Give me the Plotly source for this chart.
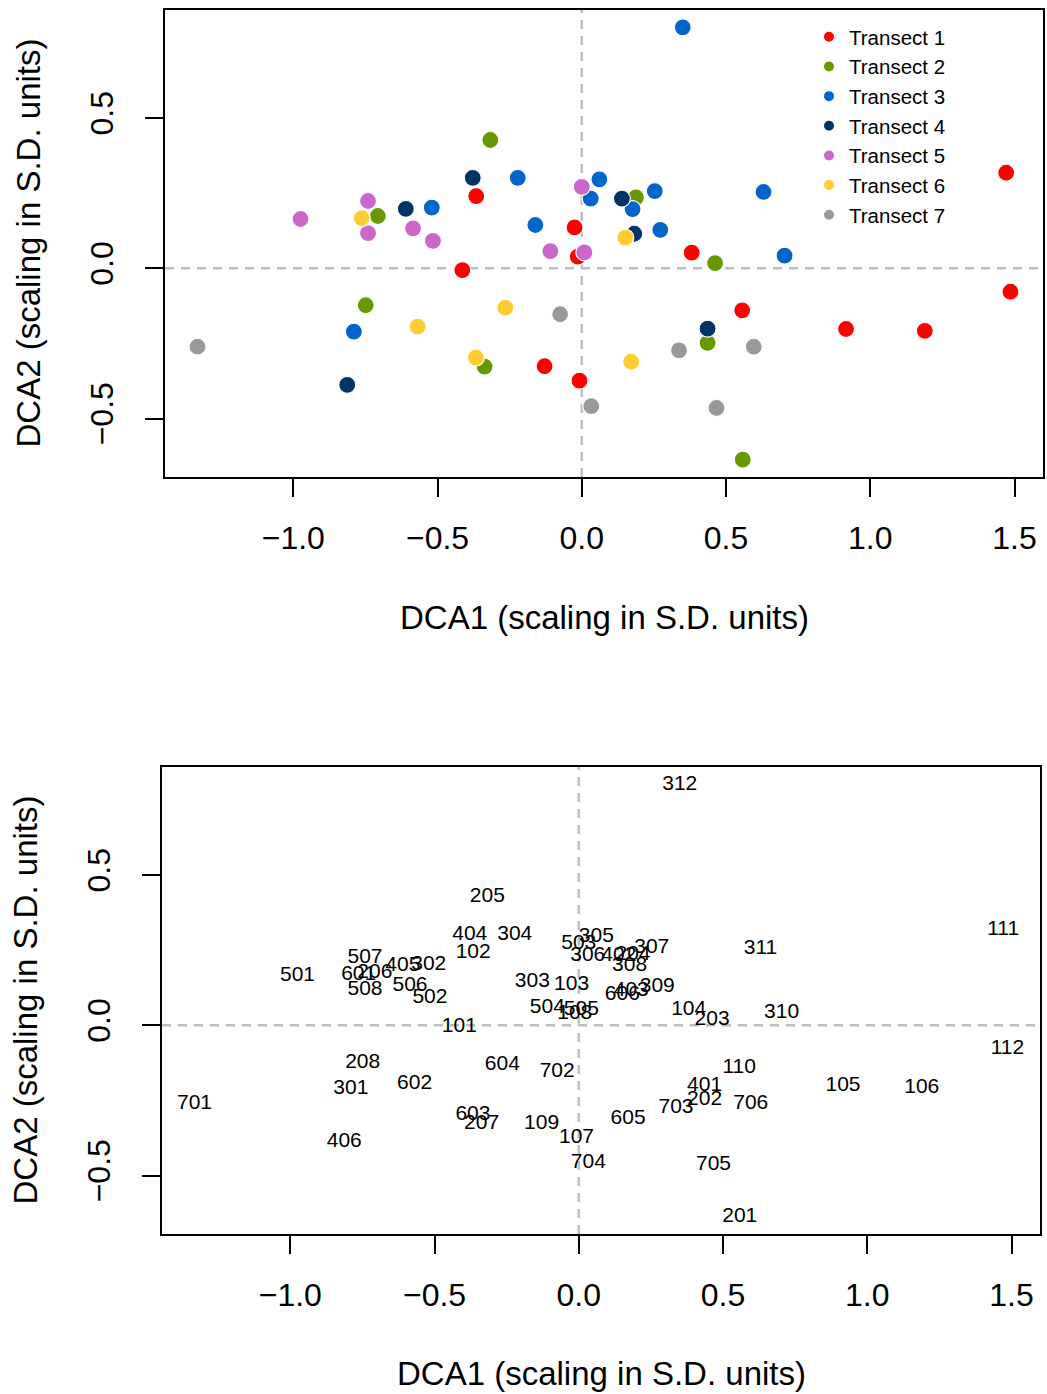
import plotly.graph_objects as go

# DCA site scores (axis 1 and 2) per transect, with site labels
sites_t1 = ["101", "102", "103", "104", "105", "106", "107", "108", "109", "110", "111", "112"]
dca1_t1 = [-0.414, -0.366, -0.025, 0.381, 0.916, 1.189, -0.008, -0.014, -0.129, 0.556, 1.471, 1.486]
dca2_t1 = [-0.006, 0.240, 0.136, 0.052, -0.202, -0.208, -0.374, 0.039, -0.326, -0.140, 0.318, -0.078]

sites_t2 = ["201", "202", "203", "204", "205", "206", "207", "208"]
dca1_t2 = [0.558, 0.436, 0.462, 0.188, -0.317, -0.707, -0.337, -0.749]
dca2_t2 = [-0.637, -0.248, 0.017, 0.236, 0.427, 0.174, -0.327, -0.123]

sites_t3 = ["301", "302", "303", "304", "305", "306", "307", "308", "309", "310", "311", "312"]
dca1_t3 = [-0.790, -0.520, -0.161, -0.222, 0.061, 0.031, 0.253, 0.176, 0.272, 0.703, 0.630, 0.350]
dca2_t3 = [-0.211, 0.202, 0.144, 0.301, 0.296, 0.232, 0.257, 0.197, 0.128, 0.042, 0.254, 0.802]

sites_t4 = ["401", "402", "403", "404", "405", "406"]
dca1_t4 = [0.436, 0.139, 0.182, -0.378, -0.610, -0.813]
dca2_t4 = [-0.201, 0.232, 0.115, 0.301, 0.198, -0.388]

sites_t5 = ["501", "502", "503", "504", "505", "506", "507", "508"]
dca1_t5 = [-0.975, -0.516, 0.000, -0.109, 0.009, -0.585, -0.741, -0.741]
dca2_t5 = [0.164, 0.091, 0.271, 0.057, 0.053, 0.133, 0.224, 0.117]

sites_t6 = ["601", "602", "603", "604", "605", "606"]
dca1_t6 = [-0.763, -0.569, -0.367, -0.265, 0.171, 0.151]
dca2_t6 = [0.167, -0.194, -0.297, -0.131, -0.311, 0.102]

sites_t7 = ["701", "702", "703", "704", "705", "706"]
dca1_t7 = [-1.332, -0.075, 0.337, 0.033, 0.467, 0.596]
dca2_t7 = [-0.261, -0.153, -0.273, -0.459, -0.465, -0.261]

transect_names = ["Transect 1", "Transect 2", "Transect 3", "Transect 4",
                  "Transect 5", "Transect 6", "Transect 7"]
transect_colors = ["#FF0000", "#669900", "#0066CC", "#003366",
                   "#CC66CC", "#FFCC33", "#999999"]

x_ticks = [-1.0, -0.5, 0.0, 0.5, 1.0, 1.5]
y_ticks = [-0.5, 0.0, 0.5]
axis_title_x = "DCA1 (scaling in S.D. units)"
axis_title_y = "DCA2 (scaling in S.D. units)"

groups = [
    (sites_t1, dca1_t1, dca2_t1),
    (sites_t2, dca1_t2, dca2_t2),
    (sites_t3, dca1_t3, dca2_t3),
    (sites_t4, dca1_t4, dca2_t4),
    (sites_t5, dca1_t5, dca2_t5),
    (sites_t6, dca1_t6, dca2_t6),
    (sites_t7, dca1_t7, dca2_t7),
]

FONT = "Liberation Sans, Arial, Helvetica, sans-serif"
W, H = 1047, 1394

# R-style axis ranges: data range extended by 4% on each side
all_x = [v for g in groups for v in g[1]]
all_y = [v for g in groups for v in g[2]]
xpad = 0.04 * (max(all_x) - min(all_x))
ypad = 0.04 * (max(all_y) - min(all_y))
x_range = [min(all_x) - xpad, max(all_x) + xpad]
y_range = [min(all_y) - ypad, max(all_y) + ypad]

fig = go.Figure()

# Upper panel: coloured site points
for name, color, (sites, xs, ys) in zip(transect_names, transect_colors, groups):
    fig.add_trace(go.Scatter(
        x=xs, y=ys, mode="markers", name=name,
        marker=dict(size=17, color=color, line=dict(color="white", width=1.2)),
        xaxis="x", yaxis="y", showlegend=True,
    ))

# Lower panel: site labels at the same ordination positions
for sites, xs, ys in groups:
    fig.add_trace(go.Scatter(
        x=xs, y=ys, mode="text", text=sites,
        textposition="middle center",
        textfont=dict(family=FONT, size=21, color="black"),
        xaxis="x2", yaxis="y2", showlegend=False, hoverinfo="skip",
    ))

# Panel boxes in pixels (left, right, top, bottom)
top_box = (165, 1043, 10, 477)
bot_box = (162, 1040, 767, 1234)


def xdom(b):
    return [b[0] / W, b[1] / W]


def ydom(b):
    return [1 - b[3] / H, 1 - b[2] / H]


axis_common = dict(
    showgrid=False, zeroline=False,
    showline=True, linecolor="black", linewidth=2, mirror=True,
    ticks="outside", ticklen=18, tickwidth=2, tickcolor="black",
    tickfont=dict(family=FONT, size=32, color="black"),
    tickformat=".1f",
)

fig.update_layout(
    width=W, height=H,
    margin=dict(l=0, r=0, t=0, b=0),
    paper_bgcolor="white", plot_bgcolor="white",
    font=dict(family=FONT, color="black"),
    xaxis=dict(domain=xdom(top_box), range=x_range, tickvals=x_ticks,
               anchor="y", ticklabelstandoff=14, **axis_common),
    yaxis=dict(domain=ydom(top_box), range=y_range, tickvals=y_ticks,
               anchor="x", tickangle=-90, ticklabelstandoff=19, **axis_common),
    xaxis2=dict(domain=xdom(bot_box), range=x_range, tickvals=x_ticks,
                anchor="y2", ticklabelstandoff=14, **axis_common),
    yaxis2=dict(domain=ydom(bot_box), range=y_range, tickvals=y_ticks,
                anchor="x2", tickangle=-90, ticklabelstandoff=19, **axis_common),
    legend=dict(
        x=809 / W, y=1 - 17 / H, xanchor="left", yanchor="top",
        bgcolor="rgba(0,0,0,0)", borderwidth=0,
        font=dict(family=FONT, size=20.5, color="black"),
        itemsizing="constant",
    ),
)

# Dashed reference lines through the origin in both panels
dash_style = dict(color="#BEBEBE", width=2.5, dash="9px,7px")
for xr, yr in (("x", "y"), ("x2", "y2")):
    fig.add_shape(type="line", xref=xr, yref=f"{yr} domain", x0=0, x1=0, y0=0, y1=1,
                  line=dash_style, layer="below")
    fig.add_shape(type="line", xref=f"{xr} domain", yref=yr, x0=0, x1=1, y0=0, y1=0,
                  line=dash_style, layer="below")

# Axis titles
title_font = dict(family=FONT, size=33, color="black")
for box, xt_y, yt_x in ((top_box, 617, 28), (bot_box, 1373, 25)):
    fig.add_annotation(
        text=axis_title_x, xref="paper", yref="paper",
        x=(box[0] + box[1]) / 2 / W, y=1 - xt_y / H,
        xanchor="center", yanchor="middle", showarrow=False, font=title_font,
    )
    fig.add_annotation(
        text=axis_title_y, xref="paper", yref="paper",
        x=yt_x / W, y=1 - (box[2] + box[3]) / 2 / H,
        xanchor="center", yanchor="middle", textangle=-90,
        showarrow=False, font=title_font,
    )

fig.write_html("out.html")
